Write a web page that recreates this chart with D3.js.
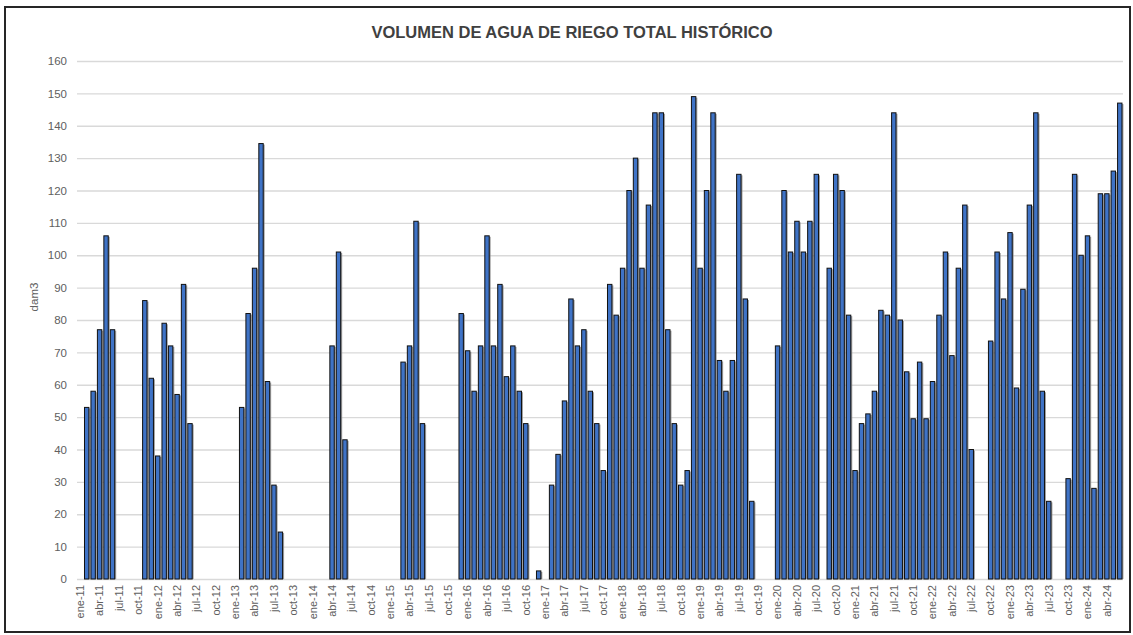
<!DOCTYPE html>
<html>
<head>
<meta charset="utf-8">
<script src="https://cdn.jsdelivr.net/npm/d3@7"></script>
<style>
  body { margin: 0; background: #fff; }
  svg { display: block; font-family: "Liberation Sans", Arial, sans-serif; }
</style>
</head>
<body>
<svg id="chart" width="1133" height="635"></svg>
<script>
// meses y años del eje
const monthNames = ["ene", "feb", "mar", "abr", "may", "jun", "jul", "ago", "sep", "oct", "nov", "dic"];
const years = [11, 12, 13, 14, 15, 16, 17, 18, 19, 20, 21, 22, 23, 24];

// volumen mensual (dam3), null = sin riego
const v2011 = [null, 53, 58, 77, 106, 77, null, null, null, null, 86, 62];
const v2012 = [38, 79, 72, 57, 91, 48, null, null, null, null, null, null];
const v2013 = [null, 53, 82, 96, 134.5, 61, 29, 14.5, null, null, null, null];
const v2014 = [null, null, null, 72, 101, 43, null, null, null, null, null, null];
const v2015 = [null, null, 67, 72, 110.5, 48, null, null, null, null, null, 82];
const v2016 = [70.5, 58, 72, 106, 72, 91, 62.5, 72, 58, 48, null, 2.5];
const v2017 = [null, 29, 38.5, 55, 86.5, 72, 77, 58, 48, 33.5, 91, 81.5];
const v2018 = [96, 120, 130, 96, 115.5, 144, 144, 77, 48, 29, 33.5, 149];
const v2019 = [96, 120, 144, 67.5, 58, 67.5, 125, 86.5, 24, null, null, null];
const v2020 = [72, 120, 101, 110.5, 101, 110.5, 125, null, 96, 125, 120, 81.5];
const v2021 = [33.5, 48, 51, 58, 83, 81.5, 144, 80, 64, 49.5, 67, 49.5];
const v2022 = [61, 81.5, 101, 69, 96, 115.5, 40, null, null, 73.5, 101, 86.5];
const v2023 = [107, 59, 89.5, 115.5, 144, 58, 24, null, null, 31, 125, 100];
const v2024 = [106, 28, 119, 119, 126, 147];

const yTicks = [0, 10, 20, 30, 40, 50, 60, 70, 80, 90, 100, 110, 120, 130, 140, 150, 160];

const series = [v2011, v2012, v2013, v2014, v2015, v2016, v2017, v2018, v2019, v2020, v2021, v2022, v2023, v2024];
const data = [];
series.forEach((vals, yi) => {
  vals.forEach((v, mi) => {
    data.push({ label: monthNames[mi] + "-" + years[yi], value: v });
  });
});
const categories = data.map(d => d.label);
const tickLabels = categories.filter((c, i) => i % 3 === 0);

const svg = d3.select("#chart");
const plotLeft = 77, plotRight = 1123, plotTop = 61, plotBottom = 579;

const x = d3.scaleBand()
  .domain(categories)
  .range([plotLeft, plotRight])
  .paddingInner(0.32)
  .paddingOuter(0.16);

const y = d3.scaleLinear()
  .domain([0, 160])
  .range([plotBottom, plotTop]);

// marco
svg.append("rect")
  .attr("x", 5).attr("y", 7)
  .attr("width", 1125).attr("height", 625)
  .attr("fill", "none")
  .attr("stroke", "#262626")
  .attr("stroke-width", 2);

// título
svg.append("text")
  .attr("x", 572).attr("y", 38)
  .attr("text-anchor", "middle")
  .attr("font-size", 16.5)
  .attr("font-weight", "bold")
  .attr("fill", "#404040")
  .text("VOLUMEN DE AGUA DE RIEGO TOTAL HISTÓRICO");

// rejilla
svg.append("g")
  .selectAll("line")
  .data(yTicks)
  .join("line")
  .attr("x1", plotLeft).attr("x2", plotRight)
  .attr("y1", d => y(d) + 0.5).attr("y2", d => y(d) + 0.5)
  .attr("stroke", "#d9d9d9")
  .attr("stroke-width", 1.3);

// eje y
const yAxis = svg.append("g")
  .attr("transform", `translate(${plotLeft - 10},0)`)
  .call(d3.axisLeft(y).tickValues(yTicks).tickSize(0).tickPadding(0));
yAxis.select(".domain").remove();
yAxis.selectAll("text")
  .attr("font-size", 11.5)
  .attr("font-family", "Liberation Sans, Arial, sans-serif")
  .attr("fill", "#606060");

svg.append("text")
  .attr("transform", "translate(38,297) rotate(-90)")
  .attr("text-anchor", "middle")
  .attr("font-size", 11.5)
  .attr("fill", "#606060")
  .text("dam3");

// barras (sombra + barra)
const bars = data.filter(d => d.value != null);
svg.append("g")
  .selectAll("rect")
  .data(bars)
  .join("rect")
  .attr("x", d => x(d.label) + 1.5)
  .attr("y", d => y(d.value) + 1)
  .attr("width", x.bandwidth())
  .attr("height", d => plotBottom - y(d.value) - 1)
  .attr("fill", "#8a8a8a")
  .attr("opacity", 0.8);

svg.append("g")
  .selectAll("rect")
  .data(bars)
  .join("rect")
  .attr("x", d => x(d.label))
  .attr("y", d => y(d.value))
  .attr("width", x.bandwidth())
  .attr("height", d => plotBottom - y(d.value))
  .attr("fill", "#3f73c6")
  .attr("stroke", "#111")
  .attr("stroke-width", 1);

// eje x
const xAxis = svg.append("g")
  .attr("transform", `translate(0,${plotBottom})`)
  .call(d3.axisBottom(x).tickValues(tickLabels).tickSize(0).tickPadding(0));
xAxis.select(".domain").remove();
xAxis.selectAll("text")
  .attr("font-size", 11)
  .attr("font-family", "Liberation Sans, Arial, sans-serif")
  .attr("fill", "#606060")
  .attr("text-anchor", "end")
  .attr("dy", "0.35em")
  .attr("transform", "translate(0,6) rotate(-90)")
  .attr("x", 0).attr("y", 0);
</script>
</body>
</html>
